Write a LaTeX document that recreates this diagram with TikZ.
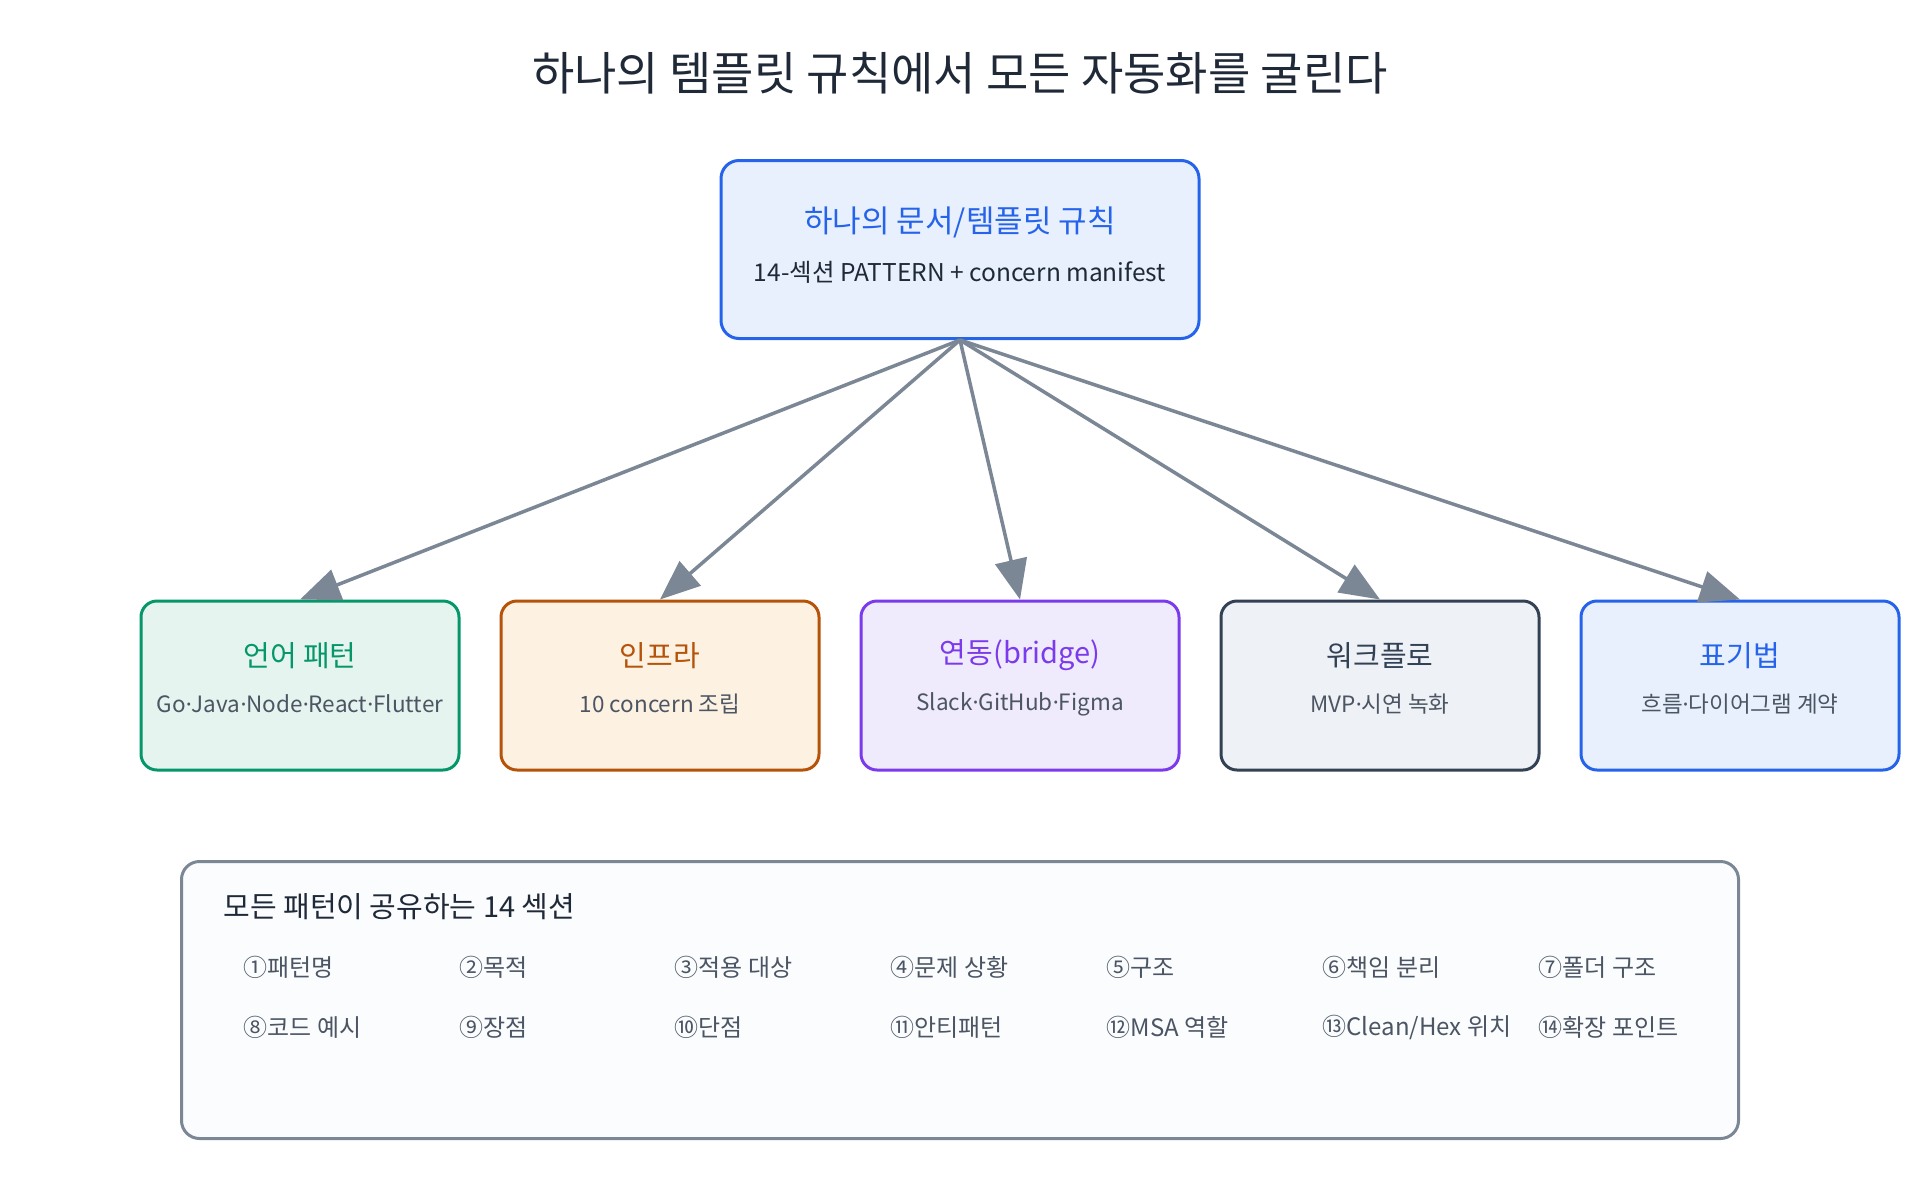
\documentclass[tikz,border=0pt]{standalone}
\usepackage{fontspec}
\setmainfont{Noto Sans CJK KR}
\newfontfamily\dotfont{Noto Sans}
\usepackage{tikz}
\usetikzlibrary{arrows.meta, positioning}

\definecolor{ink}{HTML}{1F2937}
\definecolor{subgray}{HTML}{4B5563}
\definecolor{linkgray}{HTML}{7C8796}
\definecolor{ruleblue}{HTML}{2563EB}
\definecolor{rulebg}{HTML}{E8F0FD}
\definecolor{langgreen}{HTML}{059669}
\definecolor{langbg}{HTML}{E6F4EF}
\definecolor{infraamber}{HTML}{B45309}
\definecolor{infrabg}{HTML}{FDF1E1}
\definecolor{bridgeviolet}{HTML}{7C3AED}
\definecolor{bridgebg}{HTML}{F0EBFC}
\definecolor{flowslate}{HTML}{334155}
\definecolor{flowbg}{HTML}{EEF1F5}
\definecolor{panelgray}{HTML}{7B8794}
\definecolor{panelbg}{HTML}{FAFCFE}

\newcommand\mdot{{\dotfont ·}}

\tikzset{
  card/.style 2 args={draw=#1, fill=#2, line width=3pt, rounded corners=16pt,
    minimum width=318pt, minimum height=169pt},
  head/.style={font=\fontsize{29}{34}\selectfont},
  sub/.style={font=\fontsize{22.5}{27}\selectfont, text=subgray},
  link/.style={draw=linkgray, line width=3.5pt, -{Triangle[length=40pt, width=32pt]}},
  item/.style={anchor=west, font=\fontsize{24}{28}\selectfont, text=subgray},
}

\begin{document}
\begin{tikzpicture}[x=1pt, y=-1pt, node distance=39pt]
	% Canvas
	\fill[white] (0,0) rectangle (1920,1200);
	\useasboundingbox (0,0) rectangle (1920,1200);

	% Title
	\node[font=\fontsize{46}{52}\selectfont, text=ink] (title) at (960,73) {하나의 템플릿 규칙에서 모든 자동화를 굴린다};

	% Rule box
	\node[card={ruleblue}{rulebg}, rounded corners=18pt, minimum width=478pt, minimum height=178pt] (rule) at (960,249.5) {};
	\node[head, font=\fontsize{31}{36}\selectfont, text=ruleblue] (ruletitle) at ([yshift=27.5pt]rule.center) {하나의 문서/템플릿 규칙};
	\node[sub, font=\fontsize{24.5}{29}\selectfont, text=ink] (rulesub) at ([yshift=-22.5pt]rule.center) {14-섹션 PATTERN + concern manifest};

	% Pattern boxes
	\node[card={langgreen}{langbg}] (lang) at (300,685.5) {};
	\node[card={infraamber}{infrabg}, right=of lang] (infra) {};
	\node[card={bridgeviolet}{bridgebg}, right=of infra] (bridge) {};
	\node[card={flowslate}{flowbg}, right=of bridge] (flow) {};
	\node[card={ruleblue}{rulebg}, right=of flow] (notation) {};

	\node[head, text=langgreen] (langtitle) at ([yshift=30pt]lang.center) {언어 패턴};
	\node[sub] (langsub) at ([yshift=-18.5pt]lang.center) {Go\mdot Java\mdot Node\mdot React\mdot Flutter};
	\node[head, text=infraamber] (infratitle) at ([yshift=30pt]infra.center) {인프라};
	\node[sub] (infrasub) at ([yshift=-18.5pt]infra.center) {10 concern 조립};
	\node[head, text=bridgeviolet] (bridgetitle) at ([yshift=30pt]bridge.center) {연동(bridge)};
	\node[sub] (bridgesub) at ([yshift=-18.5pt]bridge.center) {Slack\mdot GitHub\mdot Figma};
	\node[head, text=flowslate] (flowtitle) at ([yshift=30pt]flow.center) {워크플로};
	\node[sub] (flowsub) at ([yshift=-18.5pt]flow.center) {MVP\mdot 시연 녹화};
	\node[head, text=ruleblue] (notationtitle) at ([yshift=30pt]notation.center) {표기법};
	\node[sub] (notationsub) at ([yshift=-18.5pt]notation.center) {흐름\mdot 다이어그램 계약};

	% Links
	\draw[link] (rule.south) -- (lang.north);
	\draw[link] (rule.south) -- (infra.north);
	\draw[link] (rule.south) -- (bridge.north);
	\draw[link] (rule.south) -- (flow.north);
	\draw[link] (rule.south) -- (notation.north);

	% Shared sections panel
	\node[draw=panelgray, fill=panelbg, line width=3pt, rounded corners=18pt,
		minimum width=1557pt, minimum height=277pt] (panel) at (960,1000) {};
	\node[anchor=west, font=\fontsize{29}{34}\selectfont, text=ink] (paneltitle) at (220,907) {모든 패턴이 공유하는 14 섹션};

	\node[item] (s1) at (240,967) {①패턴명};
	\node[item] (s2) at (455.5,967) {②목적};
	\node[item] (s3) at (671,967) {③적용 대상};
	\node[item] (s4) at (887,967) {④문제 상황};
	\node[item] (s5) at (1103,967) {⑤구조};
	\node[item] (s6) at (1319,967) {⑥책임 분리};
	\node[item] (s7) at (1535,967) {⑦폴더 구조};
	\node[item] (s8) at (240,1027) {⑧코드 예시};
	\node[item] (s9) at (455.5,1027) {⑨장점};
	\node[item] (s10) at (671,1027) {⑩단점};
	\node[item] (s11) at (887,1027) {⑪안티패턴};
	\node[item] (s12) at (1103,1027) {⑫MSA 역할};
	\node[item] (s13) at (1319,1027) {⑬Clean/Hex 위치};
	\node[item] (s14) at (1535,1027) {⑭확장 포인트};
\end{tikzpicture}
\end{document}
